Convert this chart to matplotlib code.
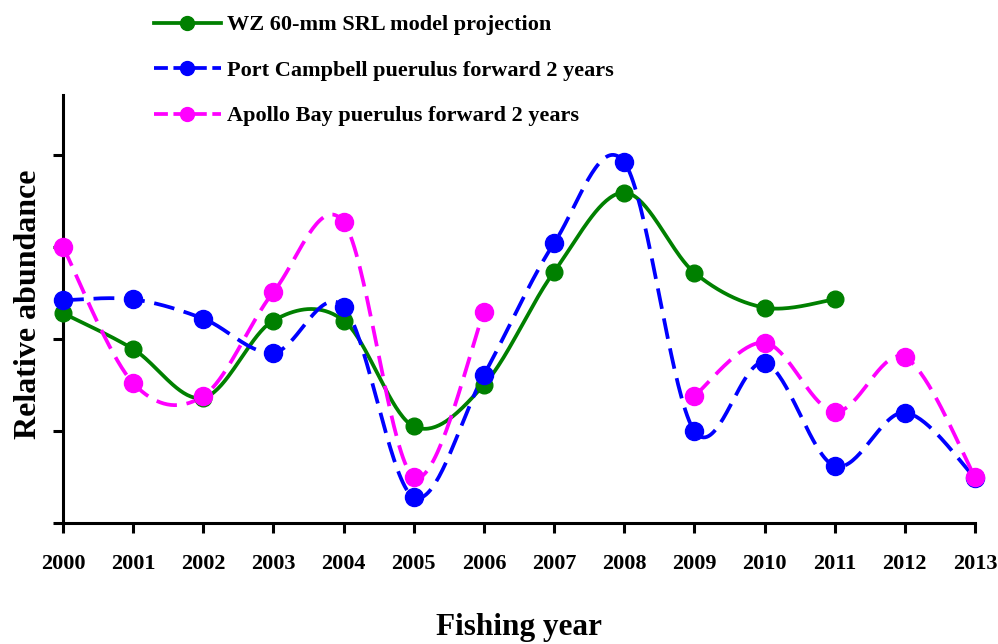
import numpy as np
import matplotlib.pyplot as plt
from matplotlib.lines import Line2D

plt.rcParams['font.family'] = ['Liberation Serif', 'DejaVu Serif']
plt.rcParams['font.weight'] = 'bold'
plt.rcParams['lines.scale_dashes'] = False

# Fishing years and relative abundance series
years = np.arange(2000, 2014)
wz_model = [2.28, 1.89, 1.36, 2.20, 2.20, 1.05, 1.50, 2.73, 3.59, 2.72, 2.34, 2.43]
port_campbell = [2.42, 2.43, 2.22, 1.85, 2.35, 0.28, 1.61, 3.04, 3.92, 1.00, 1.74, 0.62, 1.20, 0.49]
apollo_bay = [3.00, 1.52, 1.38, 2.51, 3.27, 0.50, 2.29, np.nan, np.nan, 1.38, 1.96, 1.21, 1.80, 0.50]

labels = ['WZ 60-mm SRL model projection',
          'Port Campbell puerulus forward 2 years',
          'Apollo Bay puerulus forward 2 years']
colors = ['#008000', '#0000ff', '#ff00ff']


def smooth(x, y, n=40):
    # Catmull-Rom spline through the points (spreadsheet-style smoothed line)
    x = np.asarray(x, float)
    y = np.asarray(y, float)
    if len(x) < 3:
        return x, y
    px = np.concatenate([[x[0]], x, [x[-1]]])
    py = np.concatenate([[y[0]], y, [y[-1]]])
    xs, ys = [], []
    t = np.linspace(0, 1, n)
    for i in range(1, len(px) - 2):
        for p, out in ((px, xs), (py, ys)):
            p0, p1, p2, p3 = p[i - 1], p[i], p[i + 1], p[i + 2]
            c1 = p1 + (p2 - p0) / 6
            c2 = p2 - (p3 - p1) / 6
            out.append((1 - t) ** 3 * p1 + 3 * (1 - t) ** 2 * t * c1
                       + 3 * (1 - t) * t ** 2 * c2 + t ** 3 * p2)
    return np.concatenate(xs), np.concatenate(ys)


def segments(x, y):
    # split a series at missing values
    y = np.asarray(y, float)
    x = np.asarray(x[:len(y)], float)
    ok = ~np.isnan(y)
    parts, cur = [], []
    for i in range(len(y)):
        if ok[i]:
            cur.append(i)
        elif cur:
            parts.append(cur)
            cur = []
    if cur:
        parts.append(cur)
    return [(x[p], y[p]) for p in parts]


fig = plt.figure(figsize=(9.98, 6.44), dpi=100)
ax = fig.add_axes([63 / 998, 121 / 644, 912 / 998, 428 / 644])

series = [wz_model, port_campbell, apollo_bay]
dashes = [None, (15, 7), (15, 7)]
msizes = [12, 13, 13]
for vals, c, d, ms in zip(series, colors, dashes, msizes):
    for sx, sy in segments(years, vals):
        cx, cy = smooth(sx, sy)
        ln, = ax.plot(cx, cy, color=c, lw=2.7, solid_capstyle='butt',
                      clip_on=False, zorder=2)
        if d is not None:
            ln.set_dashes(d)
        ax.plot(sx, sy, 'o', color=c, ms=ms, mec=c, clip_on=False, zorder=3)

ax.set_xlim(2000, 2013)
ax.set_ylim(0, 4.65)
ax.set_xticks(years)
ax.set_xticklabels([str(y) for y in years], fontsize=16, fontweight='bold')
ax.set_yticks(range(0, 5))
ax.set_yticklabels([])
ax.tick_params(axis='both', direction='out', length=7, width=2.2)
ax.tick_params(axis='x', pad=15)
for s in ['top', 'right']:
    ax.spines[s].set_visible(False)
for s in ['left', 'bottom']:
    ax.spines[s].set_linewidth(2.2)

ax.set_xlabel('Fishing year', fontsize=22.5, fontweight='bold')
ax.xaxis.set_label_coords(0.5, -0.21)
ax.set_ylabel('Relative abundance', fontsize=23, fontweight='bold')
ax.yaxis.set_label_coords(-0.022, 0.51)

handles = []
for c, d in zip(colors, dashes):
    h = Line2D([0], [0], color=c, lw=2.7, marker='o', ms=10)
    if d is not None:
        h.set_dashes((10, 4))
    handles.append(h)
fig.legend(handles, labels, loc='upper left', bbox_to_anchor=(145 / 998, 1 - 6 / 644),
           frameon=False, fontsize=16, handlelength=3.0, handletextpad=0.3,
           labelspacing=1.12, borderaxespad=0, markerscale=1.0)

fig.savefig('out.png', dpi=100)
